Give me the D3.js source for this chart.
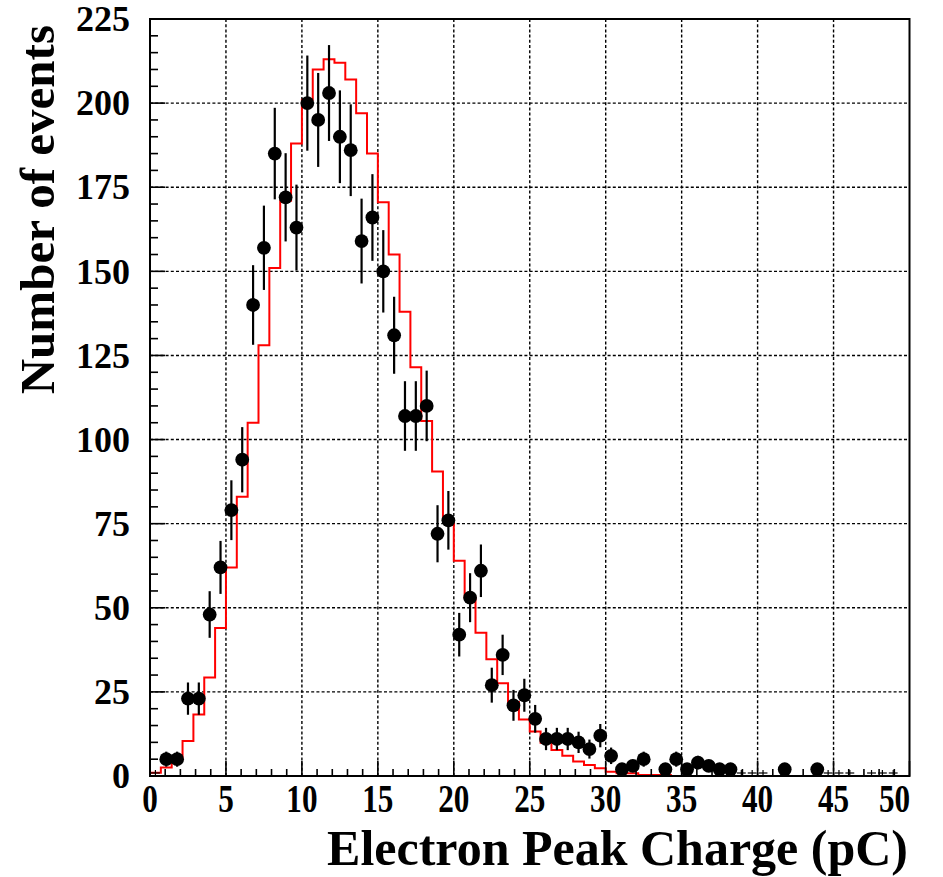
<!DOCTYPE html>
<html>
<head>
<meta charset="utf-8">
<script src="https://cdn.jsdelivr.net/npm/d3@7"></script>
<style>
  html, body { margin: 0; padding: 0; background: #fff; }
  svg { display: block; }
  text { font-family: "Liberation Serif", "Times New Roman", serif; font-weight: bold; fill: #000; }
</style>
</head>
<body>
<svg id="chart" width="943" height="877"></svg>
<script>
// ---------------- data ----------------
const xRange = [0, 50];
const yRange = [0, 225];
const nBins = 70;                    // histogram bins spanning xRange
const xTickValues = [0, 5, 10, 15, 20, 25, 30, 35, 40, 45, 50];
const yTickValues = [0, 25, 50, 75, 100, 125, 150, 175, 200, 225];
const xTitle = "Electron Peak Charge (pC)";
const yTitle = "Number of events";

// measured data (black points), one value per bin
const dataCounts = [
  0, 5, 5, 23, 23, 48, 62, 79, 94, 140,
  157, 185, 172, 163, 200, 195, 203, 190, 186, 159,
  166, 150, 131, 107, 107, 110, 72, 76, 42, 53,
  61, 27, 36, 21, 24, 17, 11, 11, 11, 10,
  8, 12, 6, 2, 3, 5, 0, 2, 5, 2,
  4, 3, 2, 2, 0, 0, 0, 0, 2, 0,
  0, 2, 0, 0, 0, 0, 0, 0, 0, 0
];
// empty data bins that still show an error cross on the axis
const emptyMarkedBins = [0, 54, 55, 56, 62, 63, 64, 66, 67, 68];

// simulation (red histogram), one value per bin
const mcCounts = [
  1, 2.5, 5, 10.4, 18.3, 29.3, 44, 62, 83, 105,
  128, 151, 171, 188, 201, 210, 213, 212, 207, 197,
  185, 170.5, 155, 138, 121.5, 105.5, 90.5, 76, 64, 53,
  42.6, 34.7, 27.6, 22, 16.8, 13.2, 9.9, 7.7, 6, 4.3,
  3.3, 2.3, 1.3, 0.8, 0.8, 0.3, 0.3, 0.3, 0, 0,
  0, 0, 0, 0, 0, 0, 0, 0, 0, 0,
  0, 0, 0, 0, 0, 0, 0, 0, 0, 0
];

// ---------------- layout ----------------
const svg = d3.select("#chart");
const plot = { left: 150, right: 909.5, top: 19, bottom: 776 };

const x = d3.scaleLinear().domain(xRange).range([plot.left, plot.right]);
const y = d3.scaleLinear().domain(yRange).range([plot.bottom, plot.top]);
const bins = d3.scaleLinear().domain([0, nBins]).range(xRange); // bin index -> x value

// grid
const grid = svg.append("g").attr("stroke", "#000").attr("stroke-width", 1.4)
  .attr("stroke-dasharray", "3,2.2");
grid.selectAll("line.gx").data(xTickValues.slice(1, -1)).join("line")
  .attr("x1", d => x(d)).attr("x2", d => x(d))
  .attr("y1", plot.top).attr("y2", plot.bottom);
grid.selectAll("line.gy").data(yTickValues.slice(1, -1)).join("line")
  .attr("y1", d => y(d)).attr("y2", d => y(d))
  .attr("x1", plot.left).attr("x2", plot.right);

// red simulation histogram as a step line
const stepPts = [];
mcCounts.forEach((v, i) => {
  stepPts.push([x(bins(i)), y(v)]);
  stepPts.push([x(bins(i + 1)), y(v)]);
});
stepPts.unshift([x(bins(0)), y(0)]);
svg.append("path")
  .attr("d", d3.line()(stepPts))
  .attr("fill", "none").attr("stroke", "#ff0000").attr("stroke-width", 2);

// data error bars and markers
const pts = dataCounts.map((v, i) => ({ i, v, cx: bins(i + 0.5) })).filter(d => d.v > 0);
svg.append("g").attr("stroke", "#000").attr("stroke-width", 2.2)
  .selectAll("line").data(pts).join("line")
  .attr("x1", d => x(d.cx)).attr("x2", d => x(d.cx))
  .attr("y1", d => y(d.v - Math.sqrt(d.v))).attr("y2", d => y(Math.min(d.v + Math.sqrt(d.v), yRange[1])));
svg.append("g").attr("fill", "#000")
  .selectAll("circle").data(pts).join("circle")
  .attr("cx", d => x(d.cx)).attr("cy", d => y(d.v)).attr("r", 6.9);

// crosses for marked empty bins
const crosses = svg.append("g").attr("stroke", "#000").attr("stroke-width", 1.2);
emptyMarkedBins.forEach(i => {
  const cx = x(bins(i + 0.5));
  const hw = (x(bins(1)) - x(bins(0))) / 2 - 1;
  crosses.append("line").attr("x1", cx - hw).attr("x2", cx + hw)
    .attr("y1", y(0) - 3).attr("y2", y(0) - 3);
  crosses.append("line").attr("x1", cx).attr("x2", cx)
    .attr("y1", y(0) - 6).attr("y2", y(0) - 1);
});

// axes ticks (major + minor), drawn inward
const ax = svg.append("g").attr("stroke", "#000").attr("stroke-width", 1.6);
const xMinor = d3.range(xRange[0], xRange[1] + 0.001, 1);
ax.selectAll("line.xt").data(xMinor).join("line")
  .attr("x1", d => x(d)).attr("x2", d => x(d))
  .attr("y1", plot.bottom).attr("y2", d => plot.bottom - (d % 5 === 0 ? 15 : 7));
const yMinor = d3.range(yRange[0], yRange[1] + 0.001, 5);
ax.selectAll("line.yt").data(yMinor).join("line")
  .attr("y1", d => y(d)).attr("y2", d => y(d))
  .attr("x1", plot.left).attr("x2", d => plot.left + (d % 25 === 0 ? 15 : 8));

// frame
svg.append("rect")
  .attr("x", plot.left).attr("y", plot.top)
  .attr("width", plot.right - plot.left).attr("height", plot.bottom - plot.top)
  .attr("fill", "none").attr("stroke", "#000").attr("stroke-width", 2);

// tick labels
svg.append("g").selectAll("text").data(yTickValues).join("text")
  .attr("x", 130).attr("y", d => y(d)).attr("dy", "0.34em")
  .attr("text-anchor", "end").attr("font-size", 36)
  .text(d => d);
svg.append("g").selectAll("text").data(xTickValues).join("text")
  .attr("transform", (d, i) => `translate(${i === xTickValues.length - 1 ? x(d) - 15 : x(d)},812) scale(0.8,1)`)
  .attr("text-anchor", "middle").attr("font-size", 39)
  .text(d => d);

// axis titles
svg.append("text")
  .attr("x", 908).attr("y", 865).attr("text-anchor", "end")
  .attr("font-size", 50).text(xTitle);
svg.append("text")
  .attr("transform", "translate(54,25) rotate(-90)")
  .attr("text-anchor", "end").attr("font-size", 49).text(yTitle);
</script>
</body>
</html>
